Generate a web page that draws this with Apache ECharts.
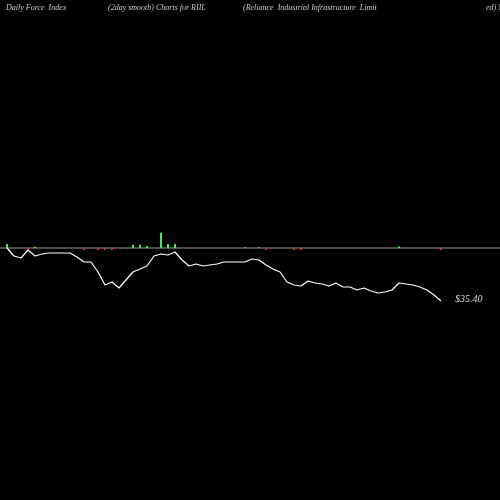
<!DOCTYPE html><html><head><meta charset="utf-8"><script src="https://cdn.jsdelivr.net/npm/echarts@6/dist/echarts.min.js"></script>
<style>html,body{margin:0;background:#000}#c{width:500px;height:500px}</style></head><body><div id="c"></div><script>
const days=Array.from({length:63},(_,i)=>i);
const prices=[35.40+53*0.06,35.40+45*0.06,35.40+43*0.06,35.40+51*0.06,35.40+45*0.06,35.40+47*0.06,35.40+48*0.06,35.40+48*0.06,35.40+48*0.06,35.40+48*0.06,35.40+44*0.06,35.40+39*0.06,35.40+39*0.06,35.40+29*0.06,35.40+16*0.06,35.40+19*0.06,35.40+13*0.06,35.40+21*0.06,35.40+29*0.06,35.40+32*0.06,35.40+35*0.06,35.40+45*0.06,35.40+47*0.06,35.40+46*0.06,35.40+49*0.06,35.40+41*0.06,35.40+35*0.06,35.40+37*0.06,35.40+35*0.06,35.40+36*0.06,35.40+37*0.06,35.40+39*0.06,35.40+39*0.06,35.40+39*0.06,35.40+39*0.06,35.40+42*0.06,35.40+41*0.06,35.40+36*0.06,35.40+32*0.06,35.40+29*0.06,35.40+19*0.06,35.40+16*0.06,35.40+15*0.06,35.40+20*0.06,35.40+18*0.06,35.40+17*0.06,35.40+15*0.06,35.40+18*0.06,35.40+14*0.06,35.40+14*0.06,35.40+11*0.06,35.40+13*0.06,35.40+10*0.06,35.40+8*0.06,35.40+9*0.06,35.40+11*0.06,35.40+18*0.06,35.40+17*0.06,35.40+16*0.06,35.40+14*0.06,35.40+11*0.06,35.40+6*0.06,35.40];
const force=[0.1,0,0,-0.05,0.03,0,0,0,0,0,0,-0.05,0,-0.05,-0.05,-0.05,0,0,0.08,0.08,0.05,0,0.38,0.1,0.1,0,-0.02,0,0,0,0,0,0,0,0.02,0,0.02,-0.05,0,0,0,-0.05,-0.05,0,0,0,0,0,0,0,0,0,0,0,0,0,0.04,0,0,0,0,0,-0.05];
const lastLabel='$35.40';
const c=echarts.init(document.getElementById('c'));
const tf={fill:'#ccc',fontFamily:'Liberation Serif',fontStyle:'italic',fontSize:8};
c.setOption({backgroundColor:'#000',animation:false,
grid:[{left:7,right:59,top:0,bottom:0},{left:7,right:59,top:208,height:80}],
xAxis:[{type:'category',data:days,boundaryGap:false,show:false},{type:'category',data:days,gridIndex:1,boundaryGap:false,show:false}],
yAxis:[{type:'value',min:23.46,max:53.46,show:false},{type:'value',gridIndex:1,min:-1,max:1,show:false}],
graphic:[{type:'rect',shape:{x:0,y:247.5,width:500,height:1},style:{fill:'#999'},z:1},
{type:'text',left:6,top:4,style:Object.assign({text:'Daily Force  Index'},tf)},
{type:'text',left:108,top:4,style:Object.assign({text:'(2day smooth) Charts for RIIL'},tf)},
{type:'text',left:243,top:4,style:Object.assign({text:'(Reliance  Industrial Infrastructure  Limit'},tf)},
{type:'text',left:486,top:4,style:Object.assign({text:'ed) N'},tf)}],
series:[{type:'line',data:prices,symbol:'none',lineStyle:{color:'#fff',width:1.2},z:3,
endLabel:{show:true,formatter:lastLabel,color:'#ddd',fontFamily:'Liberation Serif',fontStyle:'italic',fontSize:10,offset:[6,-2]}},
{type:'bar',xAxisIndex:1,yAxisIndex:1,barWidth:2,z:2,data:force.map(v=>({value:v,itemStyle:{color:v>=0?'#4e4':'#c33'}}))}]});
</script></body></html>
